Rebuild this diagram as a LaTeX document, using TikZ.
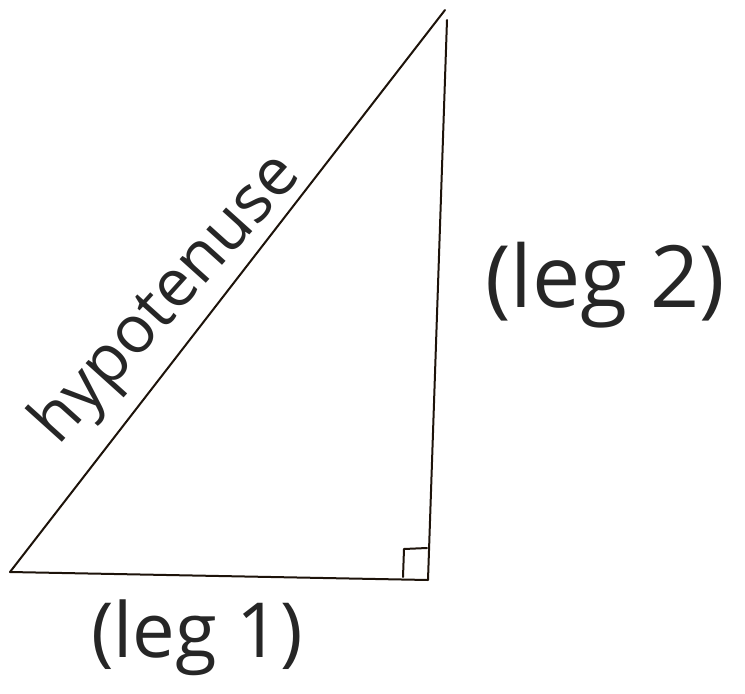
\documentclass[tikz,border=0pt]{standalone}
\usepackage{fontspec}
\setmainfont{Open Sans}
\begin{document}
\begin{tikzpicture}[x=1pt,y=-1pt,
  pen/.style={draw=black!85!brown,line width=2pt,line cap=round,line join=round},
  lbl/.style={font=\fontsize{76}{80}\selectfont\addfontfeature{}, text=black!85, inner sep=0pt}]
\useasboundingbox (0,0) rectangle (745,694);
\coordinate (A) at (10,572);
\coordinate (B) at (428,580);
\coordinate (C) at (447,20);
\coordinate (H) at (445,10);
\draw[pen] (A) -- (H);
\draw[pen] (A) -- (B) -- (C);
\coordinate (s1) at (403,577);
\coordinate (s2) at (404,549);
\coordinate (s3) at (427,548);
\draw[pen] (s1) -- (s2) -- (s3);
\node[lbl, rotate=48, font=\fontsize{66}{70}\selectfont] (hyp) at (168,300) {hypotenuse};
\node[lbl, font=\fontsize{86}{90}\selectfont] (leg2) at (605,285) {(leg 2)};
\node[lbl] (leg1) at (197,638) {(leg 1)};
\end{tikzpicture}
\end{document}
